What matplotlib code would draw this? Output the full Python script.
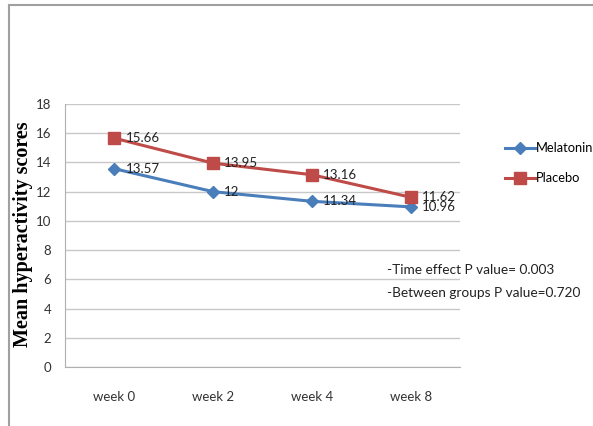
import matplotlib
matplotlib.use("Agg")
import matplotlib.pyplot as plt
from matplotlib.lines import Line2D

weeks = ["week 0", "week 2", "week 4", "week 8"]
melatonin = [13.57, 12.00, 11.34, 10.96]
placebo = [15.66, 13.95, 13.16, 11.62]
melatonin_labels = ["13.57", "12", "11.34", "10.96"]
placebo_labels = ["15.66", "13.95", "13.16", "11.62"]
y_ticks = [0, 2, 4, 6, 8, 10, 12, 14, 16, 18]

body_font = ["Lato", "DejaVu Sans"]

W, H = 593, 426
fig = plt.figure(figsize=(W / 100, H / 100), dpi=100)
fig.patch.set_facecolor("white")

# outer frame (left and top edges)
fig.add_artist(Line2D([9 / W, 9 / W], [0, 1 - 5 / H], color="#a0a0a0", lw=1.5))
fig.add_artist(Line2D([9 / W, 592 / W], [1 - 5 / H, 1 - 5 / H], color="#a0a0a0", lw=1.5))

ax = fig.add_axes([65 / W, 1 - 367 / H, (460 - 65) / W, (367 - 104) / H])
x = range(len(weeks))
blue = "#4a7ebb"
red = "#be4b48"
ax.plot(x, melatonin, color=blue, lw=2.2, marker="D", ms=6, label="Melatonin", zorder=3)
ax.plot(x, placebo, color=red, lw=2.2, marker="s", ms=8, label="Placebo", zorder=3)

for i, (v, t) in enumerate(zip(melatonin, melatonin_labels)):
    ax.annotate(t, (i, v), xytext=(8, 0), textcoords="offset points", va="center",
                ha="left", fontsize=9.5, family=body_font, color="#222222")
for i, (v, t) in enumerate(zip(placebo, placebo_labels)):
    ax.annotate(t, (i, v), xytext=(8, 0), textcoords="offset points", va="center",
                ha="left", fontsize=9.5, family=body_font, color="#222222")

ax.set_xlim(-0.5, 3.5)
ax.set_ylim(0, 18)
ax.set_yticks(y_ticks)
ax.set_xticks(list(x))
ax.set_xticklabels(weeks)
ax.grid(axis="y", color="#c8c8c8", lw=1)
ax.set_axisbelow(True)
for s in ["top", "right"]:
    ax.spines[s].set_visible(False)
for s in ["left", "bottom"]:
    ax.spines[s].set_color("#b0b0b0")
ax.tick_params(length=0, labelsize=9.5, colors="#333333")
ax.tick_params(axis="x", pad=17)
ax.tick_params(axis="y", pad=10)
for lbl in ax.get_xticklabels() + ax.get_yticklabels():
    lbl.set_family(body_font)

fig.text(23 / W, 1 - 234 / H, "Mean hyperactivity scores", rotation=90, va="center",
         ha="center", family="Liberation Serif", fontweight="bold", fontsize=14.5)

leg = fig.legend(loc="upper left", bbox_to_anchor=(500 / W, 1 - 137 / H), frameon=False,
                 prop={"family": body_font, "size": 9.3}, handlelength=2.3,
                 handletextpad=0.1, labelspacing=1.4, borderaxespad=0)

fig.text(387 / W, 1 - 270 / H, "-Time effect P value= 0.003", family=body_font,
         fontsize=9.8, va="center", color="#222222")
fig.text(387 / W, 1 - 293 / H, "-Between groups P value=0.720", family=body_font,
         fontsize=9.8, va="center", color="#222222")

fig.savefig("out.png", dpi=100)
